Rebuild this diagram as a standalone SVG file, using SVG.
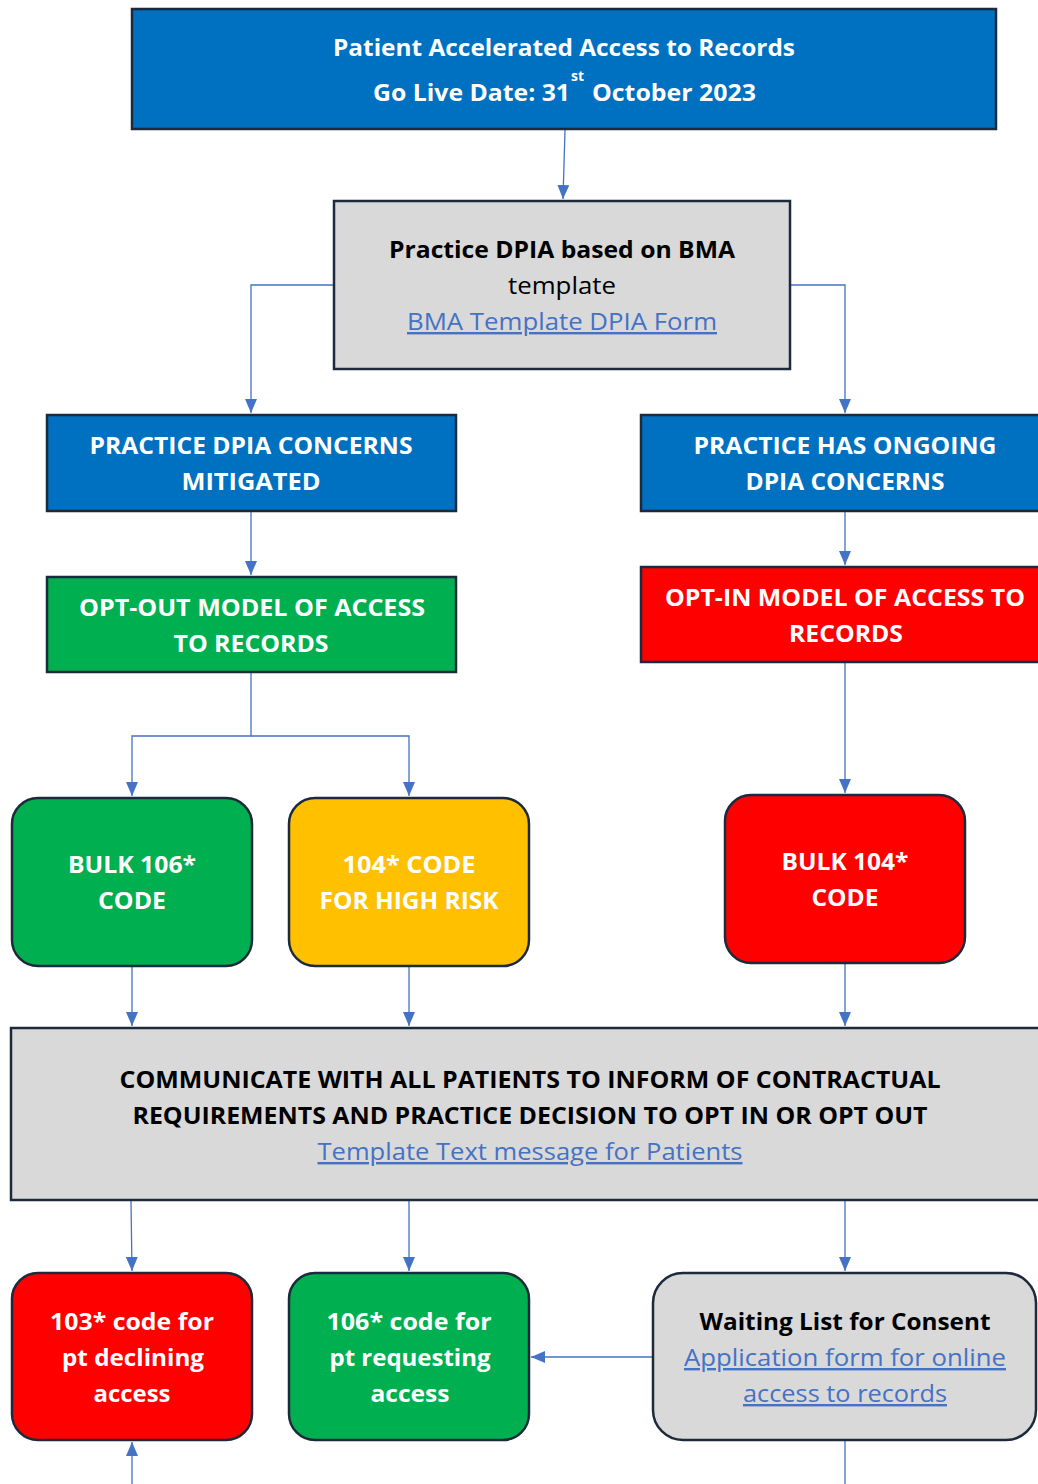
<svg xmlns="http://www.w3.org/2000/svg" width="1038" height="1484" viewBox="0 0 1038 1484">
<style>
text{font-family:"Open Sans","Liberation Sans",sans-serif;font-size:24px;text-anchor:middle}
.b{font-weight:bold}
.w{fill:#ffffff}
.k{fill:#000000}
.lnk{fill:#4472C4;text-decoration:underline}
.box{stroke:#1C2A3C;stroke-width:2.5}
.blue{fill:#0070C0}
.gray{fill:#D9D9D9}
.green{fill:#00B050}
.red{fill:#FF0000}
.amber{fill:#FFC000}
.con{fill:none;stroke:#4472C4;stroke-width:1.3}
</style>
<defs>
<marker id="ah" markerUnits="userSpaceOnUse" markerWidth="14" markerHeight="12" refX="14" refY="6" orient="auto">
<path d="M0,0 L14,6 L0,12 z" fill="#4472C4"/>
</marker>
</defs>
<rect width="1038" height="1484" fill="#ffffff"/>

<g id="connectors">
<path class="con" d="M565,130 L563,199" marker-end="url(#ah)"/>
<path class="con" d="M334,285 H251 V413" marker-end="url(#ah)"/>
<path class="con" d="M790,285 H845 V413" marker-end="url(#ah)"/>
<path class="con" d="M251,512 V575" marker-end="url(#ah)"/>
<path class="con" d="M845,512 V565" marker-end="url(#ah)"/>
<path class="con" d="M251,673 V736 H132 V796" marker-end="url(#ah)"/>
<path class="con" d="M251,736 H409 V796" marker-end="url(#ah)"/>
<path class="con" d="M845,663 V793" marker-end="url(#ah)"/>
<path class="con" d="M132,967 V1026" marker-end="url(#ah)"/>
<path class="con" d="M409,967 V1026" marker-end="url(#ah)"/>
<path class="con" d="M845,964 V1026" marker-end="url(#ah)"/>
<path class="con" d="M131,1201 L132,1271" marker-end="url(#ah)"/>
<path class="con" d="M409,1201 V1271" marker-end="url(#ah)"/>
<path class="con" d="M845,1201 V1271" marker-end="url(#ah)"/>
<path class="con" d="M653,1357 H531" marker-end="url(#ah)"/>
<path class="con" d="M845,1441 V1484"/>
<path class="con" d="M132,1484 V1442" marker-end="url(#ah)"/>
</g>

<g id="title">
<rect class="box blue" x="132" y="9" width="864" height="120"/>
<text class="b w" x="564" y="56" textLength="462" lengthAdjust="spacingAndGlyphs">Patient Accelerated Access to Records</text>
<text class="b w" x="373" y="101" style="text-anchor:start" textLength="197" lengthAdjust="spacingAndGlyphs">Go Live Date: 31</text>
<text class="b w" x="571" y="81" style="text-anchor:start;font-size:14px" textLength="13" lengthAdjust="spacingAndGlyphs">st</text>
<text class="b w" x="592" y="101" style="text-anchor:start" textLength="164" lengthAdjust="spacingAndGlyphs">October 2023</text>
</g>

<g id="dpia">
<rect class="box gray" x="334" y="201" width="456" height="168"/>
<text class="b k" x="562" y="258" textLength="346" lengthAdjust="spacingAndGlyphs">Practice DPIA based on BMA</text>
<text class="k" x="562" y="294" textLength="108" lengthAdjust="spacingAndGlyphs">template</text>
<text class="lnk" x="562" y="330" textLength="310" lengthAdjust="spacingAndGlyphs">BMA Template DPIA Form</text>
</g>

<g id="mitigated">
<rect class="box blue" x="47" y="415" width="409" height="96"/>
<text class="b w" x="251" y="454" textLength="323" lengthAdjust="spacingAndGlyphs">PRACTICE DPIA CONCERNS</text>
<text class="b w" x="251" y="490" textLength="139" lengthAdjust="spacingAndGlyphs">MITIGATED</text>
</g>

<g id="ongoing">
<rect class="box blue" x="641" y="415" width="410" height="96"/>
<text class="b w" x="845" y="454" textLength="303" lengthAdjust="spacingAndGlyphs">PRACTICE HAS ONGOING</text>
<text class="b w" x="845" y="490" textLength="199" lengthAdjust="spacingAndGlyphs">DPIA CONCERNS</text>
</g>

<g id="optout">
<rect class="box green" x="47" y="577" width="409" height="95"/>
<text class="b w" x="252" y="616" textLength="346" lengthAdjust="spacingAndGlyphs">OPT-OUT MODEL OF ACCESS</text>
<text class="b w" x="251" y="652" textLength="155" lengthAdjust="spacingAndGlyphs">TO RECORDS</text>
</g>

<g id="optin">
<rect class="box red" x="641" y="567" width="410" height="95"/>
<text class="b w" x="845" y="606" textLength="360" lengthAdjust="spacingAndGlyphs">OPT-IN MODEL OF ACCESS TO</text>
<text class="b w" x="846" y="642" textLength="114" lengthAdjust="spacingAndGlyphs">RECORDS</text>
</g>

<g id="bulk106">
<rect class="box green" x="12" y="798" width="240" height="168" rx="26"/>
<text class="b w" x="132" y="873" textLength="128" lengthAdjust="spacingAndGlyphs">BULK 106*</text>
<text class="b w" x="132" y="909" textLength="68" lengthAdjust="spacingAndGlyphs">CODE</text>
</g>

<g id="code104">
<rect class="box amber" x="289" y="798" width="240" height="168" rx="26"/>
<text class="b w" x="409" y="873" textLength="133" lengthAdjust="spacingAndGlyphs">104* CODE</text>
<text class="b w" x="409" y="909" textLength="179" lengthAdjust="spacingAndGlyphs">FOR HIGH RISK</text>
</g>

<g id="bulk104">
<rect class="box red" x="725" y="795" width="240" height="168" rx="26"/>
<text class="b w" x="845" y="870" textLength="127" lengthAdjust="spacingAndGlyphs">BULK 104*</text>
<text class="b w" x="845" y="906" textLength="67" lengthAdjust="spacingAndGlyphs">CODE</text>
</g>

<g id="communicate">
<rect class="box gray" x="11" y="1028" width="1040" height="172"/>
<text class="b k" x="530" y="1088" textLength="821" lengthAdjust="spacingAndGlyphs">COMMUNICATE WITH ALL PATIENTS TO INFORM OF CONTRACTUAL</text>
<text class="b k" x="530" y="1124" textLength="795" lengthAdjust="spacingAndGlyphs">REQUIREMENTS AND PRACTICE DECISION TO OPT IN OR OPT OUT</text>
<text class="lnk" x="530" y="1160" textLength="425" lengthAdjust="spacingAndGlyphs">Template Text message for Patients</text>
</g>

<g id="code103">
<rect class="box red" x="12" y="1273" width="240" height="167" rx="26"/>
<text class="b w" x="132" y="1330" textLength="164" lengthAdjust="spacingAndGlyphs">103* code for</text>
<text class="b w" x="133" y="1366" textLength="142" lengthAdjust="spacingAndGlyphs">pt declining</text>
<text class="b w" x="132" y="1402" textLength="77" lengthAdjust="spacingAndGlyphs">access</text>
</g>

<g id="code106">
<rect class="box green" x="289" y="1273" width="240" height="167" rx="26"/>
<text class="b w" x="409" y="1330" textLength="165" lengthAdjust="spacingAndGlyphs">106* code for</text>
<text class="b w" x="410" y="1366" textLength="161" lengthAdjust="spacingAndGlyphs">pt requesting</text>
<text class="b w" x="410" y="1402" textLength="79" lengthAdjust="spacingAndGlyphs">access</text>
</g>

<g id="waiting">
<rect class="box gray" x="653" y="1273" width="383" height="167" rx="30"/>
<text class="b k" x="845" y="1330" textLength="291" lengthAdjust="spacingAndGlyphs">Waiting List for Consent</text>
<text class="lnk" x="845" y="1366" textLength="322" lengthAdjust="spacingAndGlyphs">Application form for online</text>
<text class="lnk" x="845" y="1402" textLength="204" lengthAdjust="spacingAndGlyphs">access to records</text>
</g>
</svg>
